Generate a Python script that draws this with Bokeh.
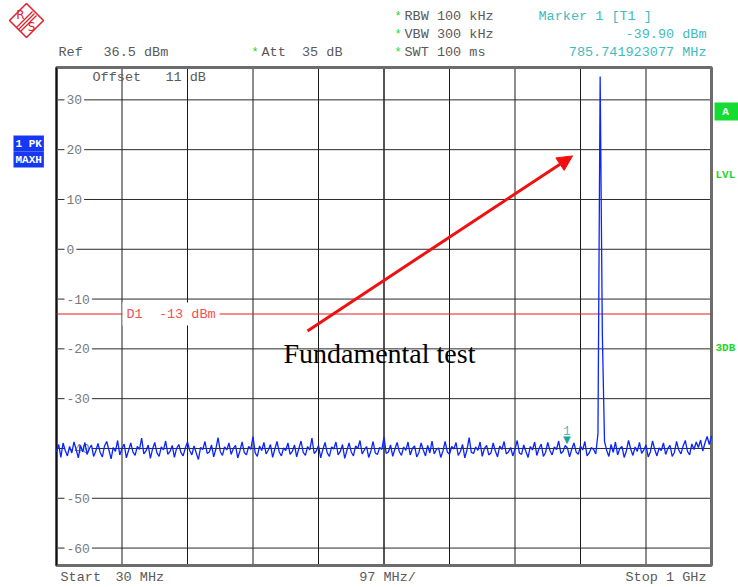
import numpy as np
from bokeh.plotting import figure
from bokeh.models import (Range1d, ColumnDataSource, Label, Arrow, NormalHead, PolyAnnotation)
from bokeh.core.properties import value
from bokeh.embed import file_html
from bokeh.resources import INLINE

# ---- instrument settings -------------------------------------------------
START_MHZ = 30.0
STOP_MHZ = 1000.0
REF_LEVEL = 36.5          # dBm, top of screen
BOTTOM_LEVEL = -63.5      # dBm, bottom of screen (10 dB/div)
DISPLAY_LINE = -13.0      # D1 limit, dBm
MARKER_FREQ = 785.741923077
MARKER_LEVEL = -39.90

X_DIVS = [30, 127, 224, 321, 418, 515, 612, 709, 806, 903, 1000]
CENTER_DIV = [515]
Y_TICKS = [30, 20, 10, 0, -10, -20, -30, -40, -50, -60]
Y_TICK_LABELS = ["30", "20", "10", "0", "-10", "-20", "-30", "-40", "-50", "-60"]

# max-hold trace, 301 sweep points across the span (dBm)
TRACE_DBM = [
    -40.6, -39.2, -41.8, -38.9, -40.4, -41.5, -39.6, -40.9, -38.7, -40.2, -41.9, -39.4, -40.7, -38.8, -41.2, -40.1, -39.3, -41.6, -40.5, -39.0,
    -40.8, -41.7, -39.5, -38.6, -40.3, -42.1, -39.8, -40.6, -38.4, -41.3, -40.0, -39.1, -41.9, -40.4, -38.9, -40.7, -41.4, -39.6, -40.2, -37.9,
    -41.1, -40.5, -39.3, -42.0, -40.1, -38.8, -40.9, -41.6, -39.7, -40.3, -38.5, -41.2, -40.6, -39.4, -41.8, -40.0, -39.2, -40.8, -41.5, -39.9,
    -38.7, -40.4, -41.3, -39.5, -40.9, -42.2, -39.8, -40.2, -38.6, -41.0, -40.7, -39.3, -41.7, -40.1, -37.8, -40.6, -41.4, -39.7, -40.3, -38.9,
    -41.2, -40.0, -39.4, -41.9, -40.5, -38.7, -40.8, -41.3, -39.6, -40.2, -37.6, -40.9, -41.6, -39.5, -40.4, -38.8, -41.1, -40.3, -39.2, -41.8,
    -40.1, -38.6, -40.7, -41.5, -39.9, -40.4, -38.9, -41.2, -40.6, -39.3, -41.7, -40.0, -38.5, -40.8, -41.4, -39.6, -40.3, -37.9, -41.0, -40.5,
    -39.4, -41.9, -40.2, -38.8, -40.9, -41.6, -39.7, -40.1, -38.7, -41.3, -40.6, -39.2, -42.0, -40.4, -38.9, -40.7, -41.5, -39.5, -40.0, -38.4,
    -41.1, -40.3, -39.6, -41.8, -40.5, -38.6, -40.9, -41.2, -39.8, -40.2, -37.7, -41.0, -40.7, -39.3, -41.6, -40.1, -38.8, -40.6, -41.4, -39.7,
    -40.4, -38.7, -41.3, -40.0, -39.5, -41.7, -40.8, -38.9, -40.3, -41.5, -39.4, -40.9, -38.5, -41.1, -40.2, -39.9, -41.8, -40.5, -38.6, -40.7,
    -41.2, -39.6, -40.1, -38.8, -41.4, -40.6, -39.2, -41.9, -40.3, -37.8, -40.8, -41.0, -39.7, -40.4, -38.7, -41.6, -40.0, -39.4, -41.3, -40.9,
    -38.9, -40.5, -41.7, -39.5, -40.2, -38.6, -41.1, -40.7, -39.8, -41.5, -40.1, -38.4, -40.9, -41.2, -39.3, -40.6, -41.8, -39.6, -40.3, -38.7,
    -41.4, -40.0, -39.1, -41.6, -40.8, -38.8, -40.4, -41.3, -39.7, -40.2, -38.5, -41.0, -40.6, -39.4, -39.9, -41.7, -40.1, -38.9, -40.7, -41.2,
    -39.5, -40.3, -38.6, -41.5, -40.9, -39.8, -40.2, -41.1, -37.0, 34.7, -17.0, -38.6, -40.4, -41.6, -39.2, -40.8, -38.7, -41.3, -40.0, -39.6,
    -41.8, -40.5, -38.4, -40.1, -41.4, -39.7, -40.6, -38.8, -41.0, -40.3, -39.3, -41.7, -40.7, -38.5, -40.2, -41.5, -39.9, -40.4, -38.9, -41.2,
    -40.0, -39.4, -41.6, -40.8, -38.6, -40.3, -41.1, -39.5, -38.4, -40.6, -41.3, -39.1, -40.2, -38.7, -39.8, -38.3, -40.5, -38.9, -37.6, -39.2,
    -37.5,
]
SWEEP_MHZ = np.linspace(START_MHZ, STOP_MHZ, len(TRACE_DBM))

# ---- screen layout (canvas pixels) ---------------------------------------
W, H = 738, 587
FRAME_L, FRAME_R, FRAME_T, FRAME_B = 56, 711, 67, 565
PX_PER_MHZ = (FRAME_R - FRAME_L) / (STOP_MHZ - START_MHZ)
PX_PER_DB = (FRAME_B - FRAME_T) / (REF_LEVEL - BOTTOM_LEVEL)

MONO = "Liberation Mono"
GREY_TXT = "#5a5a5a"
TEAL = "#3fbcbc"
GREEN = "#1fd62a"
RED = "#e61c1c"
TRACE_BLUE = "#0a24ff"


def nb(s):
    # keep runs of spaces in SVG text
    return s.replace(" ", "\u00a0")


# The plotting frame fills the whole canvas; the graticule occupies the
# instrument's screen area and the annotations sit around it.
p = figure(width=W, height=H, output_backend="svg", toolbar_location=None,
           x_axis_type=None, y_axis_type=None,
           x_range=Range1d(START_MHZ - FRAME_L / PX_PER_MHZ, STOP_MHZ + (W - FRAME_R) / PX_PER_MHZ),
           y_range=Range1d(BOTTOM_LEVEL - (H - FRAME_B) / PX_PER_DB, REF_LEVEL + FRAME_T / PX_PER_DB),
           min_border=0)
p.background_fill_color = "white"
p.border_fill_color = "white"
p.outline_line_color = None
p.xgrid.visible = False
p.ygrid.visible = False

# graticule (drawn first, beneath everything)
n_x, n_y = len(X_DIVS), len(Y_TICKS)
g1 = p.segment(x0=X_DIVS, x1=X_DIVS, y0=[BOTTOM_LEVEL] * n_x, y1=[REF_LEVEL] * n_x,
               line_color="#1a1a1a", line_width=1)
g2 = p.segment(x0=CENTER_DIV, x1=CENTER_DIV, y0=[BOTTOM_LEVEL], y1=[REF_LEVEL],
               line_color="#555555", line_width=2)
g3 = p.segment(x0=[START_MHZ] * n_y, x1=[STOP_MHZ] * n_y, y0=Y_TICKS, y1=Y_TICKS,
               line_color="#2a2a2a", line_width=1)
g4 = p.quad(left=[START_MHZ], right=[STOP_MHZ], bottom=[BOTTOM_LEVEL], top=[REF_LEVEL],
            fill_color=None, line_color="#6c6c6c", line_width=3)
g5 = p.segment(x0=[START_MHZ], x1=[START_MHZ], y0=[BOTTOM_LEVEL], y1=[REF_LEVEL],
               line_color="#111111", line_width=1.5)
for r in (g1, g2, g3, g4, g5):
    r.level = "image"

# level scale written inside the graticule, under the trace
for yv, txt in zip(Y_TICKS, Y_TICK_LABELS):
    p.add_layout(Label(x=START_MHZ, y=yv, x_offset=8, text=txt, text_font=MONO,
                       text_font_size="13px", text_color="#7a7a7a", text_baseline="middle",
                       background_fill_color="white", padding=2, level="underlay"))

# display line D1
p.segment(x0=[START_MHZ], x1=[STOP_MHZ], y0=[DISPLAY_LINE], y1=[DISPLAY_LINE],
          line_color=RED, line_width=1)
p.add_layout(Label(x=START_MHZ, y=DISPLAY_LINE, x_offset=66, text=nb("D1  -13 dBm"),
                   text_font=MONO, text_font_size="13.5px", text_color="#f45050",
                   text_baseline="middle", background_fill_color="white", padding=4))

p.add_layout(Label(x=START_MHZ, y=REF_LEVEL, x_offset=36, y_offset=-10, text=nb("Offset   11 dB"),
                   text_font=MONO, text_font_size="13.5px", text_color=GREY_TXT,
                   text_baseline="middle"))

# trace
p.line(SWEEP_MHZ, TRACE_DBM, line_color=TRACE_BLUE, line_width=1.3)

# marker 1
mk = ColumnDataSource(dict(x=[MARKER_FREQ], y=[MARKER_LEVEL]))
p.text(x="x", y="y", text=value("\u25bc"), source=mk, text_color="#1aa0a0",
       text_font_size="13px", text_align="center", text_baseline="bottom", y_offset=-1)
p.text(x="x", y="y", text=value("1"), source=mk, text_color=TEAL, text_font=value(MONO),
       text_font_size="12px", text_align="center", text_baseline="bottom", y_offset=-13)

# annotation arrow and caption
p.add_layout(Arrow(x_start=401.7, y_start=-16.4, x_end=794.2, y_end=18.75,
                   line_color="#f01010", line_width=3,
                   end=NormalHead(size=15, fill_color="#f01010", line_color="#f01010")))
p.add_layout(Label(x=366.0, y=-21.0, text="Fundamental test", text_font="Liberation Serif",
                   text_font_size="28px", text_color="black", text_baseline="alphabetic"))


# ---- text around the graticule, in canvas pixels from the top-left -------
def canvas_label(text, x, y, color, size="13.5px", align="left", bold=False, bg=None,
                 font=MONO, padding=0):
    kw = dict(background_fill_color=bg) if bg else {}
    p.add_layout(Label(x=x, y=H - y, x_units="screen", y_units="screen",
                       text=nb(text), text_color=color, text_font=font, text_font_size=size,
                       text_align=align, text_baseline="middle", padding=padding,
                       text_font_style="bold" if bold else "normal", **kw))


canvas_label("Ref", 58, 52, GREY_TXT)
canvas_label("36.5 dBm", 103, 52, GREY_TXT)
canvas_label("*", 251, 52, GREEN, size="12px")
canvas_label("Att  35 dB", 261, 52, GREY_TXT)
for row_y, txt in [(16, "RBW 100 kHz"), (34, "VBW 300 kHz"), (52, "SWT 100 ms")]:
    canvas_label("*", 394, row_y, GREEN, size="12px")
    canvas_label(txt, 404, row_y, GREY_TXT)
canvas_label("Marker 1 [T1 ]", 538, 16, TEAL)
canvas_label("-39.90 dBm", 706, 34, TEAL, align="right")
canvas_label("785.741923077 MHz", 706, 52, TEAL, align="right")

canvas_label("Start", 60, 577, GREY_TXT)
canvas_label("30 MHz", 115, 577, GREY_TXT)
canvas_label("97 MHz/", 387, 577, GREY_TXT, align="center")
canvas_label("Stop 1 GHz", 706, 577, GREY_TXT, align="right")

canvas_label("1 PK", 13, 143, "white", size="11px", bold=True, bg="#1638f2", padding=2)
canvas_label("MAXH", 13, 159, "white", size="11px", bold=True, bg="#1638f2", padding=2)

canvas_label("   ", 714, 111, "white", size="12px", bg="#14dc32", padding=2)
canvas_label("A", 725, 111, "white", size="11px", bold=True, align="center")
canvas_label("LVL", 715, 174, GREEN, size="11px", bold=True)
canvas_label("3DB", 715, 347, GREEN, size="11px", bold=True)


# R&S emblem in the corner
def canvas_poly(xs, ys, color, width=1.5):
    p.add_layout(PolyAnnotation(xs=list(xs), ys=[H - y for y in ys],
                                xs_units="screen", ys_units="screen",
                                line_color=color, line_width=width, line_alpha=1.0,
                                fill_alpha=0.0))


LOGO = "#e0222c"
canvas_poly([26, 43, 26, 9], [3, 20, 37, 20], LOGO, width=1.6)
for o in (-2.0, 0.0, 2.0):
    canvas_poly([34 + o, 18 + o], [13 + o, 29 + o], LOGO, width=1.3)
canvas_label("R", 20, 14, LOGO, size="12px", font="DejaVu Sans", align="center")
canvas_label("S", 31, 26, LOGO, size="12px", font="DejaVu Sans", align="center")

open("out.html", "w").write(file_html(p, INLINE))
